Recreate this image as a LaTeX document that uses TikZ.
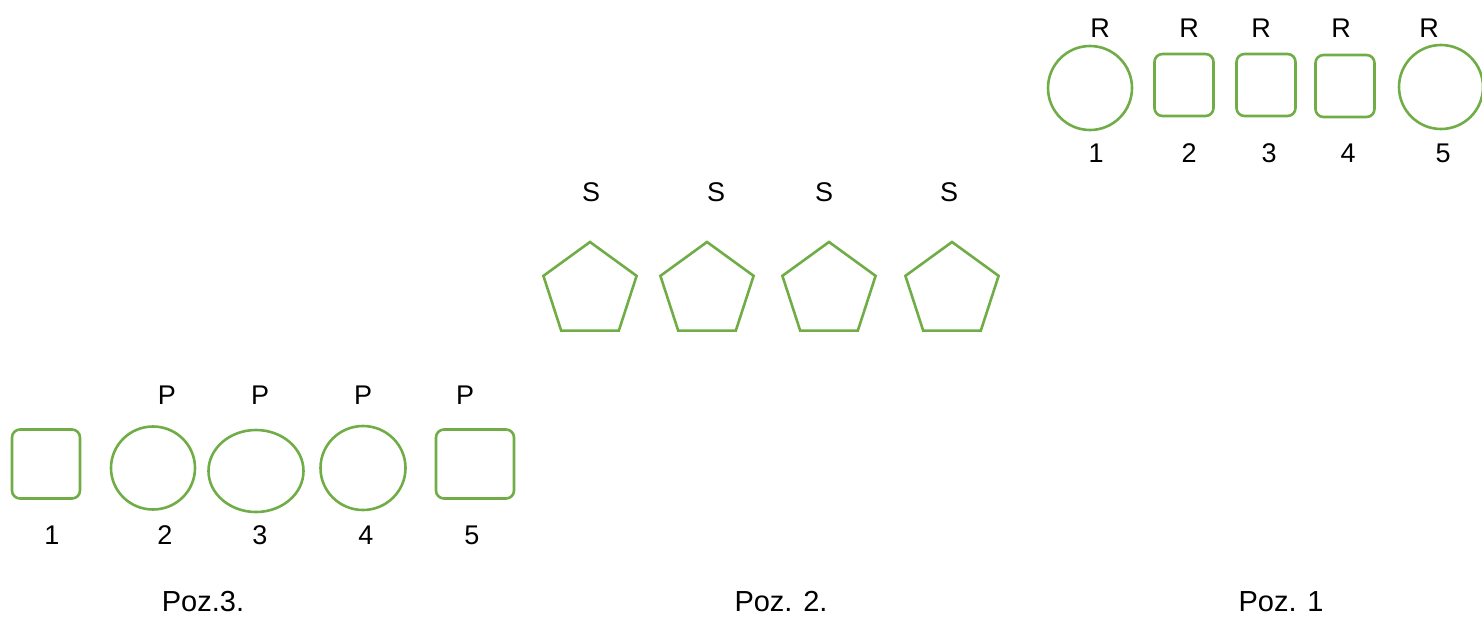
\documentclass[tikz,border=0pt]{standalone}
\usepackage{fontspec}
\setmainfont{Liberation Sans}
\usepackage{tikz}
\usetikzlibrary{shapes.geometric}
\definecolor{shapegreen}{RGB}{112,173,71}
\tikzstyle{ptlabel} = [anchor=center, color=black, font={\fontsize{13.5}{15}\selectfont}]
\tikzstyle{poslabel} = [anchor=center, color=black, font={\fontsize{14.5}{16}\selectfont}]
\tikzstyle{slot} = [draw=shapegreen, line width=1.3pt, inner sep=0pt, outer sep=0pt]
\tikzstyle{rbox} = [slot, rectangle, rounded corners=4pt]
\tikzstyle{oval} = [slot, ellipse]
\tikzstyle{penta} = [slot, regular polygon, regular polygon sides=5, minimum size=49pt]

\begin{document}
\begin{tikzpicture}[x=0.5pt, y=-0.5pt]
  \useasboundingbox (0,0) rectangle (1482,616);

  % Poz. 1
  \node[at={(1090,88)}, oval, minimum width=42pt, minimum height=42pt] (r1) {};
  \node[at={(1184,85)}, rbox, minimum width=29.5pt, minimum height=31pt] (r2) {};
  \node[at={(1266,85)}, rbox, minimum width=29.5pt, minimum height=31pt] (r3) {};
  \node[at={(1345,86)}, rbox, minimum width=29.5pt, minimum height=31pt] (r4) {};
  \node[at={(1441,87)}, oval, minimum width=42pt, minimum height=42pt] (r5) {};
  \node[at={(1100,28)}, ptlabel] (r1top) {R};
  \node[at={(1189,28)}, ptlabel] (r2top) {R};
  \node[at={(1261,28)}, ptlabel] (r3top) {R};
  \node[at={(1341,28)}, ptlabel] (r4top) {R};
  \node[at={(1429,28)}, ptlabel] (r5top) {R};
  \node[at={(1096,153)}, ptlabel] (r1num) {1};
  \node[at={(1189,153)}, ptlabel] (r2num) {2};
  \node[at={(1269,153)}, ptlabel] (r3num) {3};
  \node[at={(1348,153)}, ptlabel] (r4num) {4};
  \node[at={(1443,153)}, ptlabel] (r5num) {5};
  \node[at={(1281,602)}, poslabel] (poz1) {Poz. 1};

  % Poz. 2
  \node[at={(590,291)}, penta] (s1) {};
  \node[at={(707,291)}, penta] (s2) {};
  \node[at={(829,291)}, penta] (s3) {};
  \node[at={(952,291)}, penta] (s4) {};
  \node[at={(591,192)}, ptlabel] (s1top) {S};
  \node[at={(716,192)}, ptlabel] (s2top) {S};
  \node[at={(824,192)}, ptlabel] (s3top) {S};
  \node[at={(949,192)}, ptlabel] (s4top) {S};
  \node[at={(781,602)}, poslabel] (poz2) {Poz. 2.};

  % Poz. 3
  \node[at={(46,464)}, rbox, minimum width=34pt, minimum height=34.5pt] (p1) {};
  \node[at={(153,468)}, oval, minimum width=42pt, minimum height=41.5pt] (p2) {};
  \node[at={(256,471)}, oval, minimum width=47.5pt, minimum height=41pt] (p3) {};
  \node[at={(363,468)}, oval, minimum width=42.5pt, minimum height=42pt] (p4) {};
  \node[at={(475,464)}, rbox, minimum width=39pt, minimum height=34.5pt] (p5) {};
  \node[at={(167,395)}, ptlabel] (p2top) {P};
  \node[at={(260,395)}, ptlabel] (p3top) {P};
  \node[at={(363,395)}, ptlabel] (p4top) {P};
  \node[at={(465,395)}, ptlabel] (p5top) {P};
  \node[at={(52,535)}, ptlabel] (p1num) {1};
  \node[at={(165,535)}, ptlabel] (p2num) {2};
  \node[at={(260,535)}, ptlabel] (p3num) {3};
  \node[at={(366,535)}, ptlabel] (p4num) {4};
  \node[at={(472,535)}, ptlabel] (p5num) {5};
  \node[at={(203,602)}, poslabel] (poz3) {Poz.3.};

\end{tikzpicture}
\end{document}
